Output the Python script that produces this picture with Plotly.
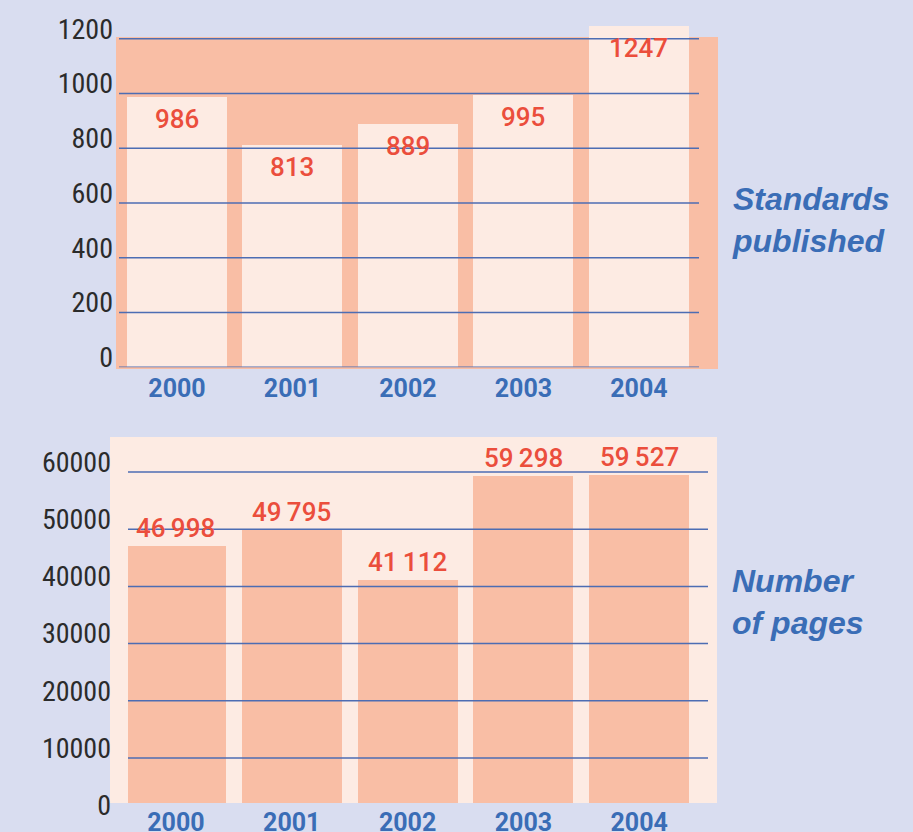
import plotly.graph_objects as go

# ---------------- data ----------------
years = ["2000", "2001", "2002", "2003", "2004"]
standards_published = [986, 813, 889, 995, 1247]
number_of_pages = [46998, 49795, 41112, 59298, 59527]

top_ticks = [0, 200, 400, 600, 800, 1000, 1200]
bottom_ticks = [0, 10000, 20000, 30000, 40000, 50000, 60000]

top_title = "Standards<br>published"
bottom_title = "Number<br>of pages"

# ---------------- styles ----------------
W, H = 913, 832
LAVENDER = "#d9ddf0"
SALMON = "#f9bea5"
LIGHT = "#fdebe3"
GRID_BLUE = "#4d6db3"
RED = "#eb4e3c"
BLUE = "#3a6db6"
DARK = "#2b2b2b"


def px_x(p):
    return p / W


def px_y(p):
    return 1 - p / H


def fmt(v):
    # thousands grouped with a thin space only for five-digit numbers
    return f"{v:,}".replace(",", "\u2009") if v >= 10000 else str(v)


fig = go.Figure()

# top chart bars
fig.add_trace(go.Bar(x=years, y=standards_published, xaxis="x", yaxis="y",
                     marker=dict(color=LIGHT, line=dict(width=0)), width=0.866,
                     hoverinfo="skip", showlegend=False))
# invisible helper trace carrying the top tick-label axis
fig.add_trace(go.Scatter(x=years, y=standards_published, xaxis="x", yaxis="y3",
                         mode="markers", marker=dict(opacity=0), hoverinfo="skip",
                         showlegend=False))
# bottom chart bars
fig.add_trace(go.Bar(x=years, y=number_of_pages, xaxis="x2", yaxis="y2",
                     marker=dict(color=SALMON, line=dict(width=0)), width=0.864,
                     hoverinfo="skip", showlegend=False))
fig.add_trace(go.Scatter(x=years, y=number_of_pages, xaxis="x2", yaxis="y4",
                         mode="markers", marker=dict(opacity=0), hoverinfo="skip",
                         showlegend=False))

shapes = [
    dict(type="rect", xref="paper", yref="paper", x0=px_x(116), x1=px_x(718),
         y0=px_y(369), y1=px_y(37), fillcolor=SALMON, line=dict(width=0), layer="below"),
    dict(type="rect", xref="paper", yref="paper", x0=px_x(110), x1=px_x(717),
         y0=px_y(803), y1=px_y(437), fillcolor=LIGHT, line=dict(width=0), layer="below"),
]
for t in top_ticks:
    shapes.append(dict(type="line", xref="x domain", yref="y", x0=0, x1=1, y0=t, y1=t,
                       line=dict(color=GRID_BLUE, width=1.5), layer="above"))
for t in bottom_ticks:
    if t > 2200:
        shapes.append(dict(type="line", xref="x2 domain", yref="y2", x0=0, x1=1, y0=t, y1=t,
                           line=dict(color=GRID_BLUE, width=1.5), layer="above"))

annotations = []
for i, v in enumerate(standards_published):
    annotations.append(dict(x=i, y=v, xref="x", yref="y", text=fmt(v), showarrow=False,
                            yanchor="middle", yshift=-22,
                            font=dict(family="Roboto", size=26, color=RED, weight=500)))
for i, v in enumerate(number_of_pages):
    annotations.append(dict(x=i, y=v, xref="x2", yref="y2", text=fmt(v), showarrow=False,
                            yanchor="middle", yshift=18,
                            font=dict(family="Roboto", size=26, color=RED, weight=500)))
title_font = dict(family="Liberation Sans, Arial", size=32, color=BLUE, weight="bold",
                  style="italic")
annotations.append(dict(x=px_x(730), y=px_y(220), xref="paper", yref="paper",
                        text=top_title, showarrow=False, xanchor="left", yanchor="middle",
                        align="left", font=title_font))
annotations.append(dict(x=px_x(730), y=px_y(602), xref="paper", yref="paper",
                        text=bottom_title, showarrow=False, xanchor="left", yanchor="middle",
                        align="left", font=title_font))

tick_font = dict(family="Liberation Sans Narrow, Roboto Condensed, Roboto", size=28, color=DARK)
xtick_font = dict(family="Roboto", size=25, color=BLUE, weight="bold")

s_top = (367.3 - 38.7) / 1200.0        # px per unit
s_bot = 57.2 / 10000.0

fig.update_layout(
    width=W, height=H,
    margin=dict(l=0, r=0, t=0, b=0, autoexpand=False),
    paper_bgcolor=LAVENDER, plot_bgcolor="rgba(0,0,0,0)",
    bargap=0,
    shapes=shapes, annotations=annotations,
    xaxis=dict(domain=[px_x(119), px_x(699)], anchor="y", type="category",
               range=[-0.502, 4.52], showgrid=False, zeroline=False, showline=False,
               tickfont=xtick_font, ticks="", ticklabelstandoff=4, automargin=False),
    yaxis=dict(domain=[px_y(367.3), px_y(22)], anchor="x",
               range=[0, (367.3 - 22) / s_top], showgrid=False, zeroline=False,
               showticklabels=False, ticks="", automargin=False),
    yaxis3=dict(domain=[px_y(357.3), px_y(25)], anchor="free", position=px_x(113),
                range=[0, (357.3 - 25) / s_top], tickvals=top_ticks, showgrid=False,
                zeroline=False, showline=False, ticks="", tickfont=tick_font,
                automargin=False),
    xaxis2=dict(domain=[px_x(128), px_x(708)], anchor="y2", type="category",
                range=[-0.414, 4.594], showgrid=False, zeroline=False, showline=False,
                tickfont=xtick_font, ticks="", ticklabelstandoff=2, automargin=False),
    yaxis2=dict(domain=[px_y(803), px_y(437)], anchor="x2",
                range=[(815.2 - 803) / s_bot, (815.2 - 437) / s_bot], showgrid=False,
                zeroline=False, showticklabels=False, ticks="", automargin=False),
    yaxis4=dict(domain=[px_y(805.2), px_y(427)], anchor="free", position=px_x(111),
                range=[0, (805.2 - 427) / s_bot], tickvals=bottom_ticks, tickformat="d",
                showgrid=False, zeroline=False, showline=False, ticks="",
                tickfont=tick_font, automargin=False),
)

fig.write_html("out.html", config={"displayModeBar": False},
               post_script="document.body.style.margin='0';")
